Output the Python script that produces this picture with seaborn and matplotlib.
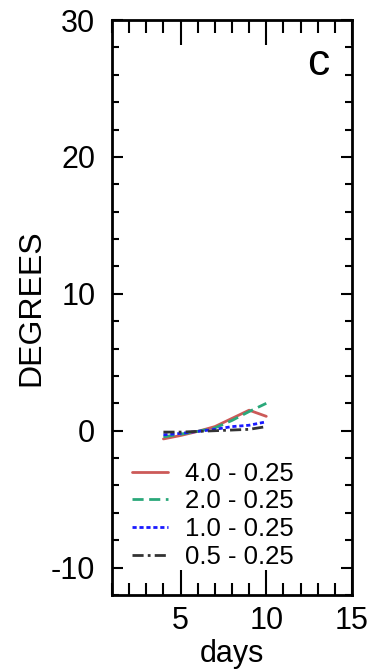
import matplotlib
matplotlib.use("Agg")
import matplotlib.pyplot as plt
from matplotlib.ticker import MultipleLocator
import seaborn as sns
import pandas as pd

days = [4, 5, 6, 7, 8, 9, 10]
s40 = [-0.6, -0.35, -0.05, 0.3, 0.9, 1.5, 1.05]
s20 = [-0.45, -0.25, -0.05, 0.2, 0.75, 1.4, 2.0]
s10 = [-0.3, -0.2, -0.05, 0.1, 0.3, 0.4, 0.65]
s05 = [-0.1, -0.1, -0.05, 0.0, 0.05, 0.1, 0.3]
labels = ["4.0 - 0.25", "2.0 - 0.25", "1.0 - 0.25", "0.5 - 0.25"]

rows = []
for lab, vals in zip(labels, [s40, s20, s10, s05]):
    for d, v in zip(days, vals):
        rows.append({"days": d, "DEGREES": v, "case": lab})
df = pd.DataFrame(rows)

sns.set_theme(style="ticks")
plt.rcParams["font.family"] = ["Liberation Sans", "DejaVu Sans"]
plt.rcParams["axes.unicode_minus"] = False
plt.rcParams["text.color"] = "black"
plt.rcParams["axes.labelcolor"] = "black"

fig = plt.figure(figsize=(3.69, 6.71), dpi=100)
ax = fig.add_axes([112 / 369, 1 - 595 / 671, 240 / 369, 575 / 671])

palette = {labels[0]: "#cc5a58", labels[1]: "#2aa87a", labels[2]: "#1a1aff", labels[3]: "#333333"}
dashes = {labels[0]: "", labels[1]: (4, 2), labels[2]: (1.5, 1), labels[3]: (4, 1.5, 1, 1.5)}
sns.lineplot(data=df, x="days", y="DEGREES", hue="case", style="case",
             palette=palette, dashes=dashes, linewidth=2.0, ax=ax, legend=True)

ax.set_xlim(1, 15)
ax.set_ylim(-12, 30)
ax.set_xticks([5, 10, 15])
ax.set_yticks([-10, 0, 10, 20, 30])
ax.xaxis.set_minor_locator(MultipleLocator(1))
ax.yaxis.set_minor_locator(MultipleLocator(2))
ax.tick_params(axis="both", which="both", direction="in", top=True, right=True,
               labelsize=22, colors="black", labelcolor="black", width=1.5)
ax.tick_params(axis="x", which="major", length=18, pad=8)
ax.tick_params(axis="x", which="minor", length=9)
ax.tick_params(axis="y", which="major", length=8, pad=12)
ax.tick_params(axis="y", which="minor", length=5)
for sp in ax.spines.values():
    sp.set_linewidth(2)
    sp.set_color("black")

ax.set_xlabel("days", fontsize=22, labelpad=2, color="black")
ax.set_ylabel("DEGREES", fontsize=23, labelpad=3, color="black")
ax.text(0.86, 0.925, "c", transform=ax.transAxes, fontsize=32, ha="center", va="center",
        color="black")

leg = ax.legend(loc="lower left", bbox_to_anchor=(0.085, 0.045), frameon=False,
                fontsize=18.5, handlelength=1.4, labelspacing=0.15, handletextpad=0.65,
                borderpad=0, borderaxespad=0)
for line in leg.get_lines():
    line.set_linewidth(2.0)
for t in leg.get_texts():
    t.set_color("black")

fig.savefig("out.png", dpi=100)
